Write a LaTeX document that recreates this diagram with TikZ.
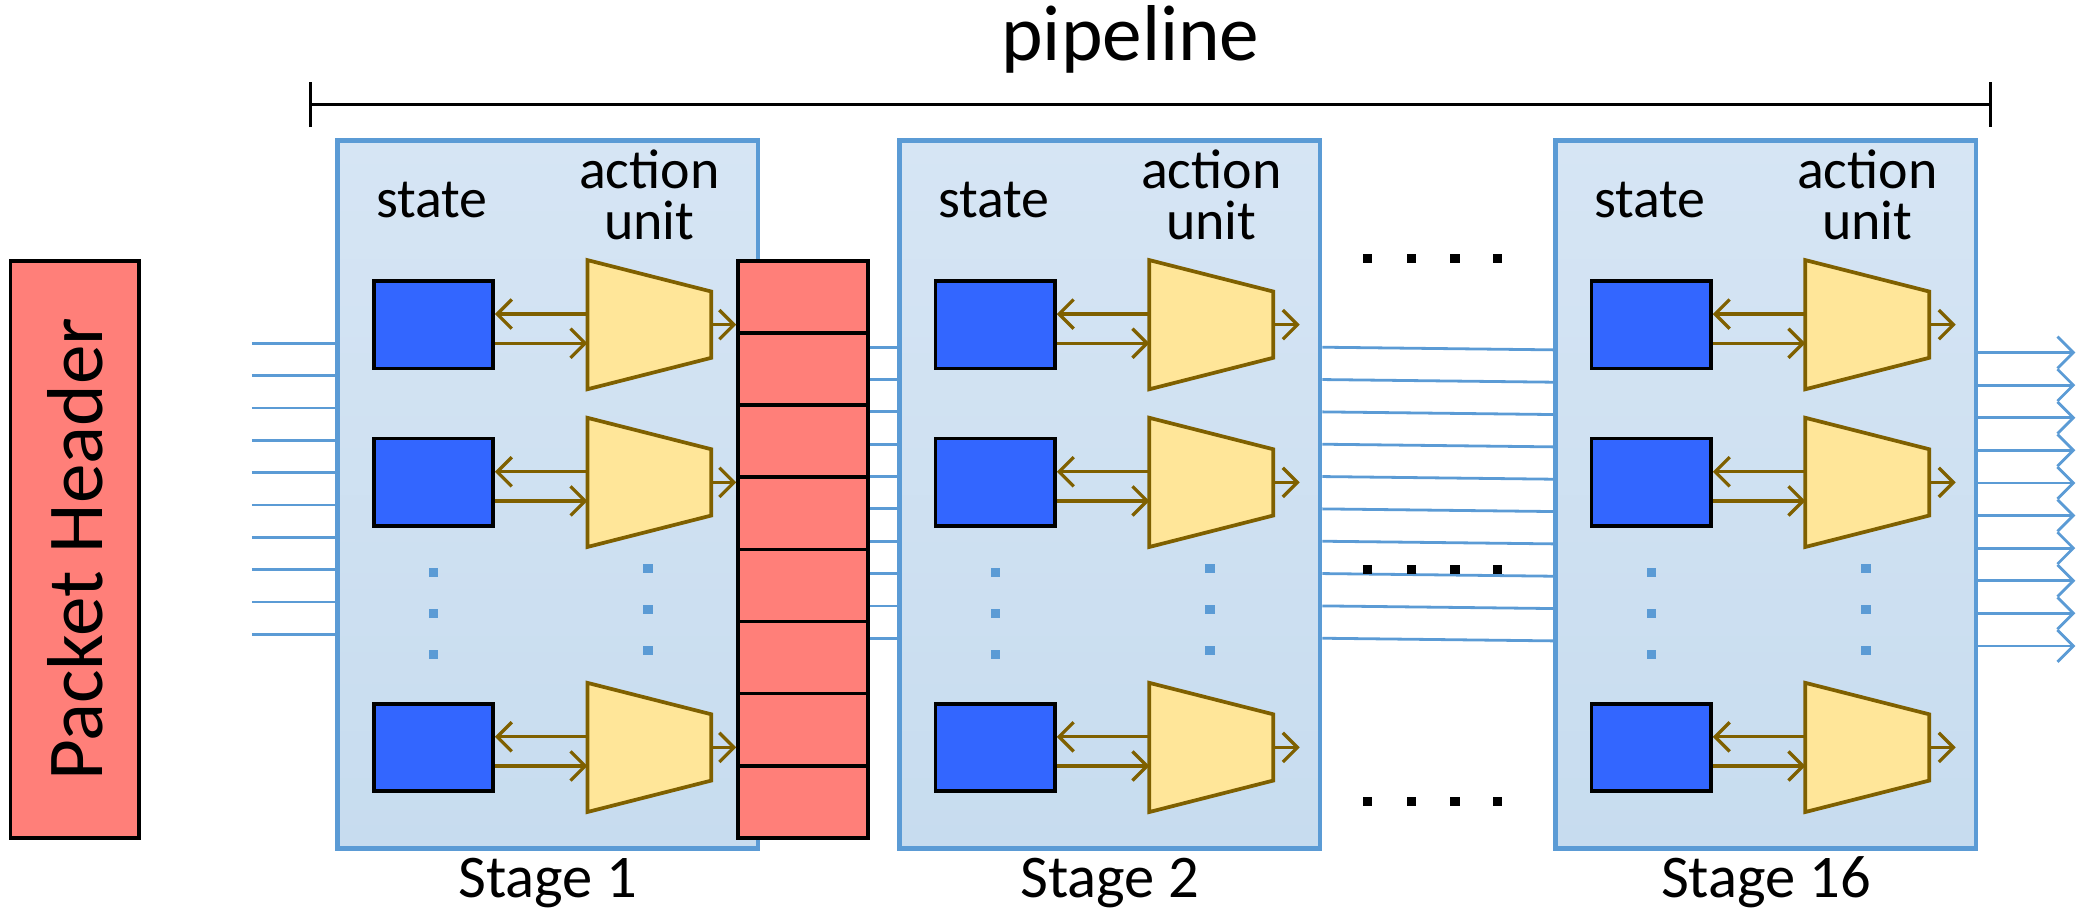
\documentclass[tikz,border=0pt]{standalone}
\usepackage{fontspec}
\setmainfont{Carlito}
\usetikzlibrary{arrows.meta,positioning,calc}

\definecolor{stagetop}{HTML}{D6E5F4}
\definecolor{stagebot}{HTML}{C7DCEF}
\definecolor{stageline}{HTML}{5B9BD5}
\definecolor{statefill}{HTML}{3366FF}
\definecolor{unitfill}{HTML}{FFE699}
\definecolor{unitline}{HTML}{7F6000}
\definecolor{hdrfill}{HTML}{FF7F79}

\tikzset{
  lbl/.style={inner sep=0,font=\fontsize{12}{10.8}\selectfont},
  stagebox/.style={draw=stageline,line width=1pt,top color=stagetop,bottom color=stagebot,
    minimum width=3.17cm,minimum height=5.34cm,inner sep=0},
  statebox/.style={draw=black,line width=0.8pt,fill=statefill,
    minimum width=0.9cm,minimum height=0.66cm,inner sep=0},
  unitbox/.style={inner sep=0,minimum width=0.92cm,minimum height=0.96cm},
  unitshape/.style={draw=unitline,fill=unitfill,line width=0.8pt,line join=miter},
  cell/.style={draw=black,line width=0.8pt,fill=hdrfill,
    minimum width=0.98cm,minimum height=0.544cm,inner sep=0},
  hdrbox/.style={draw=black,line width=0.8pt,fill=hdrfill,
    minimum width=4.35cm,minimum height=0.97cm,inner sep=0,font=\fontsize{17}{17}\selectfont},
  wire/.style={stageline,line width=0.6pt},
  link/.style={unitline,line width=0.7pt,-{Straight Barb[length=1.1mm,width=2.2mm]}},
  outwire/.style={wire,-{Straight Barb[length=1.2mm,width=2.4mm]}},
  vdot/.style={fill=stageline,minimum size=0.07cm,inner sep=0},
  hdot/.style={fill=black,minimum size=0.07cm,inner sep=0},
  bracket/.style={line width=0.7pt,{Bar[width=3.4mm]}-{Bar[width=3.4mm]}}
}

\begin{document}
\begin{tikzpicture}[x=0.01cm,y=-0.01cm]
\useasboundingbox (0,0) rectangle (1568,688);

\node[lbl,font=\fontsize{17}{17}\selectfont] (pipe) at (853,30) {pipeline};
\coordinate (pl) at (233,79);
\coordinate (pr) at (1503,79);
\draw[bracket] (pl) -- (pr);

\node[hdrbox,rotate=90] (hdr) at (56.5,414.5) {Packet Header};

\foreach \s/\xl/\name in {1/255/Stage 1,2/679/Stage 2,3/1174/Stage 16} {
  \node[stagebox] (st\s) at (\xl+158.5,373) {};
  \node[lbl,font=\fontsize{13}{13}\selectfont] (stl\s) at (\xl+158.5,666) {\name};
  \node[lbl] (sl\s) at (\xl+71,151) {state};
  \node[lbl,align=center] (al\s) at (\xl+235,147) {action\\unit};
  \foreach \r/\y in {1/245,2/364,3/564} {
    \node[statebox] (sq\s\r) at (\xl+72,\y) {};
    \node[unitbox] (au\s\r) at (\xl+235,\y) {};
    \draw[unitshape] (au\s\r.north west) -- ([yshift=0.25cm]au\s\r.east)
      -- ([yshift=-0.25cm]au\s\r.east) -- (au\s\r.south west) -- cycle;
    \draw[link] ([yshift=0.08cm]au\s\r.west) -- ([yshift=0.08cm]sq\s\r.east);
    \draw[link] ([yshift=-0.14cm]sq\s\r.east) -- ([yshift=-0.14cm]au\s\r.west);
  }
  \foreach \d in {0,1,2} {
    \node[vdot] at (\xl+72,432+31*\d) {};
    \node[vdot] at (\xl+234,429+31*\d) {};
  }
}

% header fields between stage 1 and stage 2
\foreach \c in {1,...,8}
  \node[cell] (hc\c) at (606,169.8+54.4*\c) {};
\foreach \r in {1,2,3}
  \draw[link] (au1\r.east) -- (au1\r.east -| hc1.west);
\foreach \s in {2,3}
  \foreach \r in {1,2,3}
    \draw[link] (au\s\r.east) -- ++(20,0);

\foreach \i in {0,...,9} {
  \coordinate (in\i) at (190,259+24.4*\i);
  \draw[wire] (in\i) -- (in\i -| st1.west);
  \draw[wire] (hc1.east |- 0,262+24.4*\i) -- (st2.west |- 0,262+24.4*\i);
  \draw[wire] (st2.east |- 0,262+24.4*\i) -- (st3.west |- 0,264+24.4*\i);
  \coordinate (out\i) at (1566,266+24.6*\i);
  \draw[outwire] (out\i -| st3.east) -- (out\i);
}

\foreach \y in {195,430,605}
  \foreach \x in {1032,1065,1098,1130}
    \node[hdot] at (\x,\y) {};
\end{tikzpicture}
\end{document}
